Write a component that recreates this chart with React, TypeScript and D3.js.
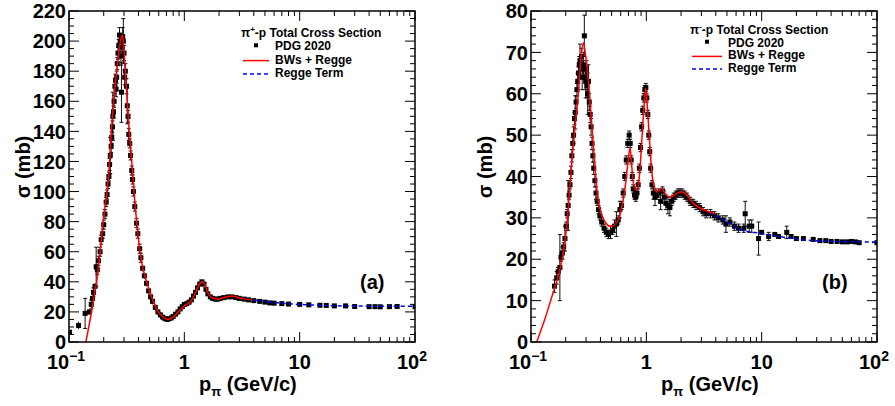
import React from 'react';
import * as d3 from 'd3';

const W = 895;
const H = 406;
const FONT = '"Liberation Sans", Arial, Helvetica, sans-serif';

// ---------- axis labels ----------
const xTickValues = [0.1, 1, 10, 100];
const xTickBase = ['10', '1', '10', '10'];
const xTickExp = ['\u22121', '', '', '2'];
const plusYTicks = [0, 20, 40, 60, 80, 100, 120, 140, 160, 180, 200, 220];
const minusYTicks = [0, 10, 20, 30, 40, 50, 60, 70, 80];

// ---------- pi+ p data: [p (GeV/c), sigma (mb), error] ----------
const plusData: [number, number, number][] = [
  [0.101, 6.5, 1.5], [0.121, 11, 2.5], [0.138, 19, 10], [0.150, 20, 2], [0.156, 25, 3],
  [0.160, 29, 2], [0.163, 33, 3], [0.168, 37, 2], [0.172, 50, 13], [0.176, 48, 3],
  [0.180, 54, 3], [0.186, 60, 3], [0.190, 68, 3], [0.196, 72, 3], [0.200, 78, 3],
  [0.205, 85, 3], [0.210, 93, 3], [0.214, 98, 3], [0.218, 105, 3], [0.222, 110, 3],
  [0.225, 118, 4], [0.228, 124, 12], [0.232, 130, 4], [0.235, 136, 4], [0.238, 143, 4],
  [0.240, 150, 16], [0.243, 153, 4], [0.246, 160, 4], [0.250, 170, 5], [0.253, 174, 4],
  [0.256, 168, 5], [0.259, 176, 4], [0.262, 185, 4], [0.266, 192, 4], [0.270, 197, 4],
  [0.274, 204, 5], [0.278, 200, 5], [0.282, 190, 6], [0.285, 166, 20], [0.288, 196, 5],
  [0.292, 203, 6], [0.296, 200, 15], [0.300, 192, 5], [0.304, 176, 5], [0.308, 180, 5],
  [0.315, 170, 5], [0.320, 157, 12], [0.325, 150, 4], [0.330, 138, 4], [0.336, 132, 3],
  [0.342, 124, 3], [0.350, 114, 3], [0.356, 108, 3], [0.362, 100, 3], [0.372, 90, 3],
  [0.385, 79, 3], [0.395, 72, 3], [0.410, 62, 3], [0.420, 56, 3], [0.435, 49, 2],
  [0.450, 44, 2], [0.470, 39, 2], [0.490, 34, 2], [0.510, 30, 2], [0.530, 27, 2],
  [0.560, 23, 2], [0.590, 20, 2], [0.620, 18, 2], [0.650, 16.5, 1], [0.680, 15.5, 1],
  [0.710, 15, 1], [0.740, 15.5, 1], [0.770, 16, 1], [0.800, 17, 1], [0.840, 18.5, 1],
  [0.880, 20, 1], [0.920, 22, 1], [0.960, 23.5, 1], [1.00, 25, 1], [1.05, 25.5, 1],
  [1.10, 26.5, 1], [1.15, 28, 1], [1.20, 30.5, 1], [1.25, 33, 1], [1.30, 36, 1],
  [1.36, 38.5, 1], [1.42, 40, 1], [1.48, 38.5, 1], [1.54, 35, 1], [1.60, 32, 1],
  [1.68, 30, 1], [1.76, 29, 1], [1.85, 28.5, 1], [1.95, 28.5, 1], [2.05, 29, 1],
  [2.2, 29.5, 1], [2.4, 30, 1], [2.6, 30, 1], [2.8, 29.5, 1], [3.0, 29, 1],
  [3.3, 28.5, 1], [3.6, 28, 1], [4.0, 27.5, 1], [4.5, 27, 1], [5.0, 26.5, 1],
  [5.5, 26, 1], [6.0, 25.8, 1], [7.0, 25.5, 1], [8.0, 25.2, 1], [10.0, 25, 0.6],
  [12.0, 24.7, 0.6], [15.0, 24.4, 0.6], [17.0, 24.3, 0.6], [20.0, 24, 0.6], [25.0, 24, 0.5],
  [30.0, 23.6, 0.5], [40.0, 23.5, 0.5], [45.0, 23.5, 0.5], [50.0, 23.4, 0.5], [60.0, 23.5, 0.5],
  [70.0, 23.6, 0.5], [100.0, 23.5, 0.5],
];

// BWs + Regge fit, pi+ p
const plusFit: [number, number][] = [
  [0.140, 0], [0.150, 12], [0.157, 20], [0.160, 24], [0.170, 36], [0.174, 40],
  [0.180, 50], [0.186, 60], [0.190, 66], [0.198, 80], [0.207, 92], [0.215, 102],
  [0.225, 120], [0.233, 140], [0.244, 160], [0.259, 180], [0.270, 192], [0.281, 201],
  [0.290, 204], [0.298, 197], [0.306, 182], [0.320, 160], [0.333, 140], [0.350, 120],
  [0.366, 100], [0.386, 80], [0.413, 60], [0.440, 48], [0.471, 40], [0.521, 30],
  [0.595, 20], [0.650, 16.8], [0.700, 15.3], [0.740, 15.1], [0.800, 16.5], [0.850, 18.5],
  [0.915, 21], [0.960, 22.5], [1.00, 24], [1.05, 25], [1.10, 26], [1.15, 27.5],
  [1.20, 30], [1.26, 33.5], [1.32, 37], [1.38, 39.3], [1.44, 40], [1.50, 38.5],
  [1.56, 35], [1.62, 32], [1.70, 30], [1.80, 29], [1.92, 28.6], [2.04, 28.8],
  [2.20, 29.6], [2.40, 30.3], [2.55, 30.5], [2.75, 30.2], [3.00, 29.3], [3.40, 28.5],
  [3.90, 28],
];

// Regge term, pi+ p
const plusRegge: [number, number][] = [
  [3.5, 28.3], [4, 27.8], [5, 27], [6, 26.3], [7, 25.8], [8, 25.4], [10, 25],
  [15, 24.4], [20, 24.1], [30, 23.9], [50, 23.8], [70, 23.8], [100, 23.8],
];

// ---------- pi- p data ----------
const minusData: [number, number, number][] = [
  [0.160, 13.5, 1.5], [0.167, 15.5, 1.5], [0.172, 17, 1], [0.178, 18, 8], [0.182, 20.5, 1],
  [0.187, 21.5, 1.5], [0.192, 23, 1], [0.197, 25, 3], [0.202, 28, 1], [0.206, 31, 1],
  [0.210, 33, 6], [0.214, 35.5, 1], [0.218, 38, 1], [0.222, 41, 1.5], [0.226, 45, 1.5],
  [0.230, 48, 1.5], [0.234, 50, 2], [0.238, 54, 1.5], [0.242, 55.5, 4], [0.246, 58, 1.5],
  [0.250, 61, 1.5], [0.254, 63, 2], [0.258, 65, 1.5], [0.262, 67, 2], [0.266, 68, 4],
  [0.270, 66, 2], [0.274, 69, 2], [0.278, 64, 3], [0.282, 66, 2], [0.286, 67, 3],
  [0.290, 74, 5], [0.294, 64, 3], [0.298, 63, 4], [0.302, 66, 2], [0.306, 62, 3],
  [0.310, 60, 5], [0.315, 63, 4], [0.320, 58, 2], [0.326, 55, 2], [0.332, 52, 2],
  [0.338, 48, 1.5], [0.344, 45, 1.5], [0.350, 42, 1.5], [0.358, 39, 1.5], [0.366, 36, 1.5],
  [0.375, 34, 1], [0.385, 32, 1], [0.395, 30.5, 1], [0.41, 29, 1], [0.43, 27.5, 1],
  [0.45, 26.5, 1], [0.47, 26, 1], [0.49, 26.5, 1.5], [0.51, 27, 1], [0.53, 28, 1.5],
  [0.55, 28.5, 3], [0.57, 29.5, 1], [0.59, 32, 2], [0.61, 33, 1], [0.63, 36, 1],
  [0.65, 40, 1], [0.67, 44, 1], [0.69, 48, 1], [0.71, 50, 1], [0.725, 48, 1],
  [0.74, 44, 1], [0.755, 40, 1], [0.77, 37, 1], [0.79, 35.5, 1], [0.81, 35, 1],
  [0.83, 36, 1], [0.85, 38, 1], [0.87, 42, 1], [0.89, 47, 1], [0.91, 52, 1],
  [0.93, 56, 1], [0.95, 59, 1], [0.97, 61, 1], [0.99, 61.5, 1], [1.01, 59, 1],
  [1.03, 55, 1], [1.05, 50, 1], [1.07, 46, 1], [1.09, 42, 1], [1.12, 38, 1],
  [1.15, 36, 1.5], [1.19, 35, 2], [1.23, 35.5, 1], [1.28, 36, 1], [1.33, 34, 2],
  [1.38, 36.5, 1], [1.43, 35, 1.5], [1.48, 33.5, 1.5], [1.54, 33, 2], [1.60, 32.5, 2],
  [1.66, 34, 1], [1.73, 35, 1], [1.80, 35.5, 1], [1.88, 36, 1], [1.96, 36, 1],
  [2.05, 36, 1], [2.15, 35.5, 1], [2.25, 35, 1], [2.40, 34, 1], [2.55, 33.5, 1],
  [2.70, 33, 1], [2.90, 32.5, 1], [3.10, 31.5, 1], [3.30, 31, 1], [3.6, 31, 1],
  [3.9, 30.5, 1], [4.2, 30, 1], [4.6, 29.5, 1], [4.9, 28.5, 2], [5.3, 29, 1],
  [5.8, 28, 1], [6.3, 27.5, 1], [7.0, 27.5, 1], [7.2, 31, 3], [7.8, 28, 1.5],
  [8.2, 28, 1.5], [9.4, 25, 4], [10.0, 26.5, 0.5], [11.5, 25.5, 1], [13, 26, 0.5],
  [14, 25.5, 0.5], [16.5, 26.5, 1.5], [18, 25.5, 0.5], [20, 25, 0.5], [23, 25, 0.5],
  [28, 24.8, 0.3], [32, 24.5, 0.3], [36, 24.5, 0.3], [40, 24.3, 0.3], [45, 24.3, 0.3],
  [50, 24.2, 0.3], [55, 24.2, 0.3], [60, 24.3, 0.3], [65, 24.2, 0.3], [70, 24.0, 0.3],
  [100, 24.0, 0.5],
];

const minusFit: [number, number][] = [
  [0.112, 0], [0.130, 5], [0.150, 10.5], [0.1725, 16], [0.190, 21.5], [0.204, 28],
  [0.218, 38], [0.228, 45], [0.237, 50], [0.257, 60], [0.270, 68], [0.284, 72.3],
  [0.295, 70], [0.310, 65], [0.325, 58], [0.342, 50], [0.364, 40], [0.375, 36],
  [0.390, 33], [0.420, 30], [0.460, 28.3], [0.495, 27.9], [0.550, 28.8], [0.600, 31.5],
  [0.655, 37.5], [0.690, 43], [0.722, 47], [0.750, 42], [0.780, 38], [0.830, 36.7],
  [0.870, 40], [0.910, 48], [0.950, 56], [0.987, 61.3], [1.02, 57], [1.07, 48],
  [1.11, 42], [1.15, 38.4], [1.23, 36.3], [1.30, 36.8], [1.36, 37.1], [1.45, 36],
  [1.55, 35.2], [1.65, 35.1], [1.80, 35.7], [2.02, 36.3], [2.25, 35.5], [2.55, 33.5],
  [3.00, 32.2], [3.40, 31.6], [3.90, 31],
];

const minusRegge: [number, number][] = [
  [3.5, 31.3], [4, 30.5], [4.66, 29.5], [5.5, 28.4], [6.45, 27.2], [8, 26.6],
  [9.6, 26.3], [12, 25.8], [17.7, 25.1], [25, 24.6], [35, 24.4], [47.6, 24.3],
  [70, 24.2], [100, 24.2],
];

type LegendCfg = {
  tx: number; ty: number; charge: string; mx: number; textX: number;
  l0: number; l1: number; dy: number;
};

type PanelProps = {
  px0: number;
  data: [number, number, number][];
  fit: [number, number][];
  regge: [number, number][];
  yMax: number;
  yTicks: number[];
  yMinor: number;
  legend: LegendCfg;
  tag: string;
  tagX: number;
  titleX: number;
  yTitleX: number;
};

const Y0 = 11;
const Y1 = 342;
const PW = 346;

function Panel(props: PanelProps) {
  const { px0, data, fit, regge, yMax, yTicks, yMinor, legend, tag, tagX, titleX, yTitleX } = props;
  const x = d3.scaleLog().domain([0.1, 100]).range([px0, px0 + PW]);
  const y = d3.scaleLinear().domain([0, yMax]).range([Y1, Y0]);
  const line = d3
    .line<[number, number]>()
    .x((d) => x(d[0]))
    .y((d) => y(d[1]))
    .curve(d3.curveCatmullRom.alpha(0.5));
  const minorY = d3.range(0, yMax + 1e-9, yMinor).filter((v) => !yTicks.includes(v));
  const minorX: number[] = [];
  [0.1, 1, 10].forEach((dec) => {
    for (let k = 2; k <= 9; k++) minorX.push(dec * k);
  });
  const xr = px0 + PW;
  const clipId = 'clip' + px0;
  const MS = 5;
  return (
    <g>
      <defs>
        <clipPath id={clipId}>
          <rect x={px0} y={Y0} width={PW} height={Y1 - Y0} />
        </clipPath>
      </defs>
      {/* ticks */}
      <g stroke="#000" strokeWidth={1}>
        {yTicks.map((v) => (
          <g key={'ym' + v}>
            <line x1={px0} x2={px0 + 10} y1={y(v)} y2={y(v)} />
            <line x1={xr} x2={xr - 10} y1={y(v)} y2={y(v)} />
          </g>
        ))}
        {minorY.map((v) => (
          <g key={'yn' + v}>
            <line x1={px0} x2={px0 + 5} y1={y(v)} y2={y(v)} />
            <line x1={xr} x2={xr - 5} y1={y(v)} y2={y(v)} />
          </g>
        ))}
        {xTickValues.map((v) => (
          <g key={'xm' + v}>
            <line x1={x(v)} x2={x(v)} y1={Y1} y2={Y1 - 10} />
            <line x1={x(v)} x2={x(v)} y1={Y0} y2={Y0 + 10} />
          </g>
        ))}
        {minorX.map((v) => (
          <g key={'xn' + v}>
            <line x1={x(v)} x2={x(v)} y1={Y1} y2={Y1 - 5} />
            <line x1={x(v)} x2={x(v)} y1={Y0} y2={Y0 + 5} />
          </g>
        ))}
      </g>
      {/* data */}
      <g clipPath={`url(#${clipId})`}>
        <g stroke="#111" strokeWidth={1}>
          {data.map((d, i) => (
            <g key={'e' + i}>
              <line x1={x(d[0])} x2={x(d[0])} y1={y(d[1] - d[2])} y2={y(d[1] + d[2])} />
              {d[2] * (Y1 - Y0) / yMax > 4 && (
                <>
                  <line x1={x(d[0]) - 2} x2={x(d[0]) + 2} y1={y(d[1] - d[2])} y2={y(d[1] - d[2])} />
                  <line x1={x(d[0]) - 2} x2={x(d[0]) + 2} y1={y(d[1] + d[2])} y2={y(d[1] + d[2])} />
                </>
              )}
            </g>
          ))}
        </g>
        {data.map((d, i) => (
          <rect key={'m' + i} x={x(d[0]) - MS / 2} y={y(d[1]) - MS / 2} width={MS} height={MS} fill="#000" />
        ))}
        <path d={line(regge) || ''} fill="none" stroke="#0000ff" strokeWidth={1.5} strokeDasharray="4,3" />
        <path d={line(fit) || ''} fill="none" stroke="#ff0000" strokeWidth={1.5} />
      </g>
      {/* frame */}
      <rect x={px0} y={Y0} width={PW} height={Y1 - Y0} fill="none" stroke="#000" strokeWidth={1.5} />
      {/* y tick labels */}
      <g fontFamily={FONT} fontWeight="bold" fontSize={20} fill="#000">
        {yTicks.map((v) => (
          <text key={'yl' + v} x={px0 - 3} y={y(v)} dy="0.36em" textAnchor="end">
            {v}
          </text>
        ))}
        {xTickValues.map((v, i) => (
          <text key={'xl' + v} x={x(v) + (xTickExp[i] ? -3 : 0)} y={369} textAnchor="middle">
            {xTickBase[i]}
            {xTickExp[i] && (
              <tspan fontSize={14} dy={-8}>
                {xTickExp[i]}
              </tspan>
            )}
          </text>
        ))}
        <text x={titleX} y={391}>
          p<tspan fontSize={13} dy={5}>{'\u03c0'}</tspan>
          <tspan dy={-5}>{' (GeV/c)'}</tspan>
        </text>
        <text transform={`translate(${yTitleX},167) rotate(-90)`} textAnchor="middle">
          {'\u03c3 (mb)'}
        </text>
        <text x={tagX} y={289}>{tag}</text>
      </g>
      {/* legend */}
      <g fontFamily={FONT} fontWeight="bold" fontSize={12} fill="#000">
        <text x={legend.tx} y={legend.ty}>
          {'\u03c0'}
          <tspan fontSize={8} dy={-5}>{legend.charge}</tspan>
          <tspan dy={5}>-p Total Cross Section</tspan>
        </text>
        <rect x={legend.mx - 2} y={legend.ty + legend.dy - 7} width={4} height={4} fill="#000" />
        <text x={legend.textX} y={legend.ty + legend.dy}>PDG 2020</text>
        <line x1={legend.l0} x2={legend.l1} y1={legend.ty + 2 * legend.dy - 3} y2={legend.ty + 2 * legend.dy - 3} stroke="#ff0000" strokeWidth={1.5} />
        <text x={legend.textX} y={legend.ty + 2 * legend.dy}>BWs + Regge</text>
        <line x1={legend.l0} x2={legend.l1} y1={legend.ty + 3 * legend.dy - 3} y2={legend.ty + 3 * legend.dy - 3} stroke="#0000ff" strokeWidth={1.5} strokeDasharray="4,3" />
        <text x={legend.textX} y={legend.ty + 3 * legend.dy}>Regge Term</text>
      </g>
    </g>
  );
}

export default function App() {
  return (
    <svg
      width={W}
      height={H}
      viewBox={`0 0 ${W} ${H}`}
      style={{ position: 'absolute', left: 0, top: 0, background: '#fff' }}
    >
      <rect x={0} y={0} width={W} height={H} fill="#fff" />
      <Panel
        px0={69}
        data={plusData}
        fit={plusFit}
        regge={plusRegge}
        yMax={220}
        yTicks={plusYTicks}
        yMinor={5}
        legend={{ tx: 241, ty: 37, charge: '+', mx: 256, textX: 275, l0: 243, l1: 269, dy: 13.3 }}
        tag="(a)"
        tagX={360}
        titleX={199}
        yTitleX={30}
      />
      <Panel
        px0={531}
        data={minusData}
        fit={minusFit}
        regge={minusRegge}
        yMax={80}
        yTicks={minusYTicks}
        yMinor={2}
        legend={{ tx: 690, ty: 34, charge: '-', mx: 707, textX: 728, l0: 692, l1: 722, dy: 12.7 }}
        tag="(b)"
        tagX={822}
        titleX={661}
        yTitleX={492}
      />
    </svg>
  );
}
